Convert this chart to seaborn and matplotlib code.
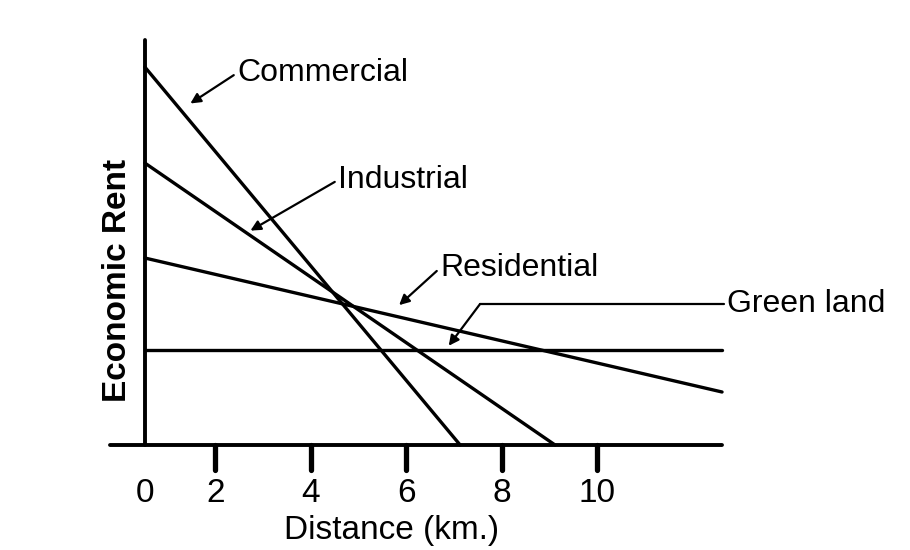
import matplotlib
matplotlib.use("Agg")
import matplotlib.pyplot as plt
import seaborn as sns
import pandas as pd

# data (x in km, y in arbitrary rent units)
uses = ["Commercial", "Industrial", "Residential", "Green land"]
x_start = [0.52, 0.52, 0.52, 0.52]
x_end = [7.13, 9.12, 12.62, 12.62]
y_start = [378, 282, 187, 95]
y_end = [0, 0, 53, 95]
tick_pos = [0.52, 2, 4, 6, 8, 10]
tick_labels = ["0", "2", "4", "6", "8", "10"]

rows = []
for u, xs, xe, ys, ye in zip(uses, x_start, x_end, y_start, y_end):
    rows += [(u, xs, ys), (u, xe, ye)]
df = pd.DataFrame(rows, columns=["use", "dist", "rent"])

sns.set_style("white")
plt.rcParams['font.family'] = ['Liberation Sans', 'DejaVu Sans']
fig = plt.figure(figsize=(9.1, 5.5), dpi=100)
ax = fig.add_axes([0, 0, 1, 1])
ax.set_xlim(-2.516, 16.56)
ax.set_ylim(-105, 445)
ax.axis("off")

sns.lineplot(data=df, x="dist", y="rent", units="use", estimator=None,
             color="black", lw=2.4, ax=ax, legend=False)

# axes
ax.plot([-0.21, 12.62], [0, 0], color="black", lw=2.8)
ax.plot([0.52, 0.52], [0, 405], color="black", lw=2.8)
for p, l in zip(tick_pos, tick_labels):
    if p > 1:
        ax.plot([p, p], [0, -25], color="black", lw=3.8)
    ax.text(p, -48, l, ha="center", va="center", fontsize=24, color="black")
ax.text(5.7, -85, "Distance (km.)", ha="center", va="center", fontsize=24, color="black")
ax.text(-0.05, 165, "Economic Rent", ha="center", va="center", rotation=90,
        fontsize=24, fontweight="bold", color="black")

arr = dict(arrowstyle="-|>", color="black", lw=1.6, mutation_scale=15, relpos=(0, 0.5), shrinkA=0)
def px(x, y):
    return ((x - 120) / 47.7, 445 - y)
for label, tip, pos in [("Commercial", (188, 105), (237, 73)),
                        ("Industrial", (248, 232), (338, 180)),
                        ("Residential", (397, 307), (440, 268))]:
    ax.annotate(label, xy=px(*tip), xytext=px(*pos), fontsize=23, color="black",
                ha="left", va="center", arrowprops=arr)
ax.text(*px(727, 304), "Green land", fontsize=23, va="center", color="black")
a, b = px(724, 304), px(480, 304)
ax.plot([a[0], b[0]], [a[1], b[1]], color="black", lw=1.6)
ax.annotate("", xy=px(447, 348), xytext=b,
            arrowprops=dict(arrowstyle="-|>", color="black", lw=1.6, mutation_scale=15, shrinkA=0))

fig.savefig("out.png", dpi=100)
